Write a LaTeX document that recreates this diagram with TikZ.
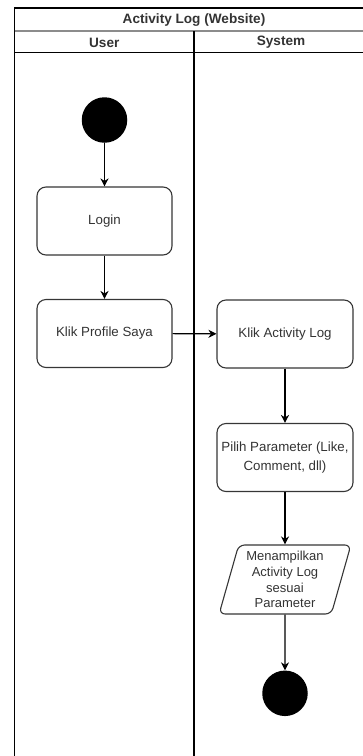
\documentclass[tikz,border=0pt]{standalone}
\usepackage{fontspec}
\setmainfont{Liberation Sans}
\usetikzlibrary{arrows.meta,shapes.geometric}
\definecolor{txt}{HTML}{333333}
\definecolor{bord}{HTML}{363636}
\tikzset{
  actbox/.style={draw=bord, line width=1.1pt, rounded corners=9pt, minimum width=135pt, minimum height=68pt, inner sep=1pt, align=center, text=txt, font=\fontsize{13.3}{19}\selectfont},
  flowarrow/.style={line width=1.1pt, -{Stealth[length=8pt,width=8pt,inset=2.5pt]}},
  dot/.style={circle, fill=black, minimum size=45.5pt, inner sep=0pt},
  lanehead/.style={text=txt, font=\fontsize{13.6}{15}\bfseries\selectfont},
}
\begin{document}
\begin{tikzpicture}[x=1pt,y=-1pt]
\useasboundingbox (0,0) rectangle (363,756);
\clip (0,0) rectangle (363,756);
% pool frame
\draw[line width=1.6pt] (14.5,770) -- (14.5,8) -- (375,8);
\draw[line width=2pt, draw=gray!90] (14.5,31) -- (375,31);
\draw[line width=1.4pt] (14.5,52.5) -- (375,52.5);
\draw[line width=1.4pt] (194,31) -- (194,770);
\node[lanehead] (title) at (194,20) {Activity Log (Website)};
\node[lanehead] (user) at (104.25,42.5) {User};
\node[lanehead] (system) at (281,42.5) {System};
% nodes
\node[dot] (start) at (104.5,120) {};
\node[actbox] (login) at (104.5,221) {Login};
\node[actbox] (profile) at (104.5,333.5) {Klik Profile Saya};
\node[actbox, minimum width=136pt] (activity) at (285,334) {Klik Activity Log};
\node[actbox, minimum width=136pt] (param) at (285,457.5) {Pilih Parameter (Like,\\Comment, dll)};
\node[trapezium, trapezium left angle=74, trapezium right angle=106, trapezium stretches=true,
      draw=bord, line width=1.1pt, rounded corners=6pt, minimum width=132pt, minimum height=69pt,
      inner sep=0pt, align=center, text=txt, font=\fontsize{13}{15.8}\selectfont] (show) at (285,579.5)
      {Menampilkan\\Activity Log\\sesuai\\Parameter};
\node[dot] (end) at (285,693.3) {};
% connectors
\draw[flowarrow] (start) -- (login);
\draw[flowarrow] (login) -- (profile);
\draw[flowarrow] (profile) -- (activity);
\draw[flowarrow] (activity) -- (param);
\draw[flowarrow] (param) -- (show);
\draw[flowarrow] (show) -- (end);
\end{tikzpicture}
\end{document}
